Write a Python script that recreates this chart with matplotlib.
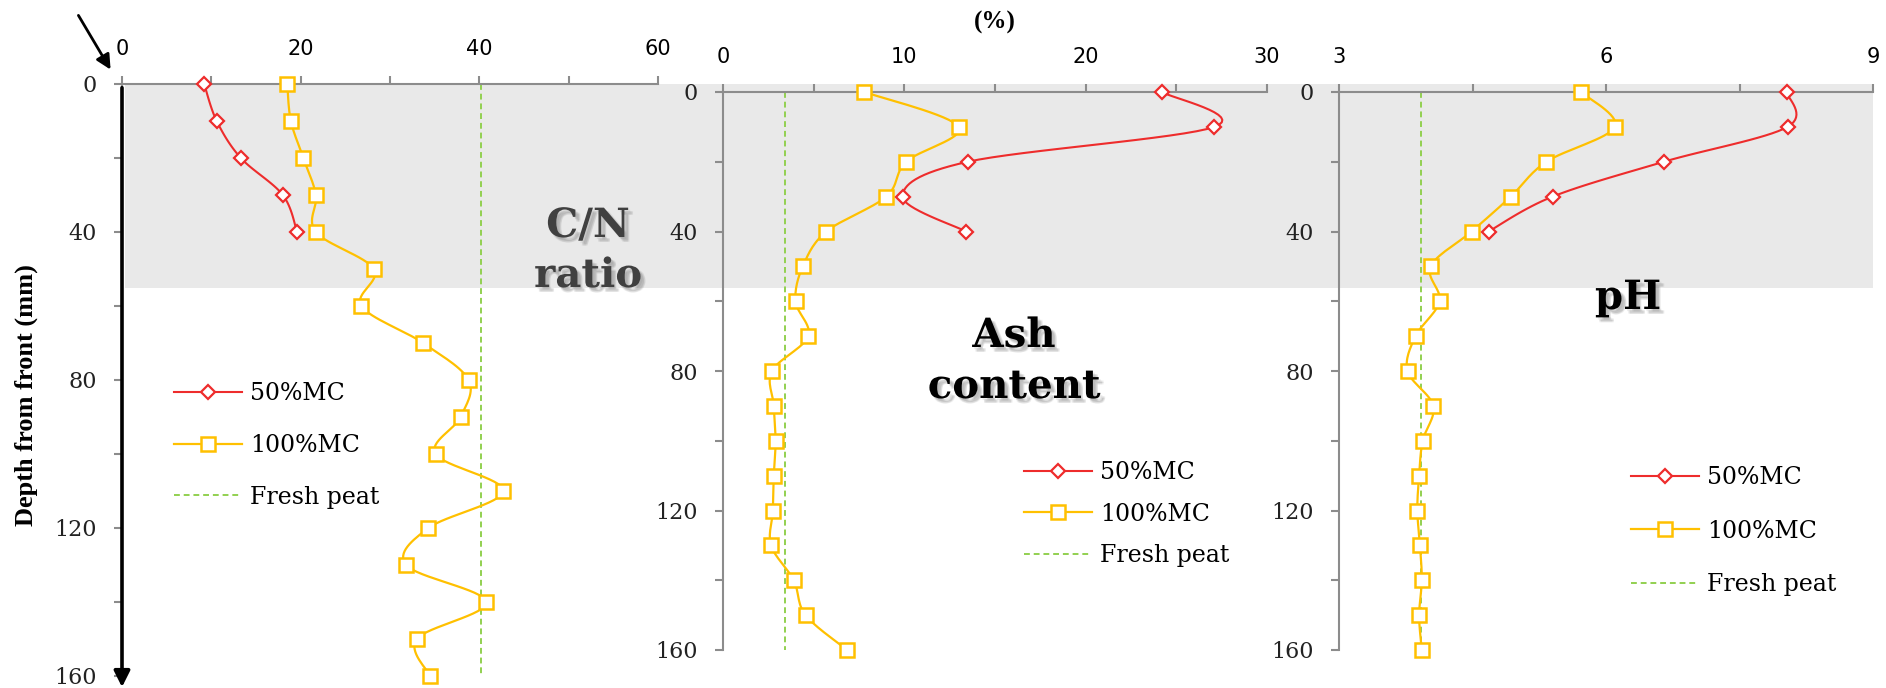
import numpy as np
import matplotlib
matplotlib.use('Agg')
import matplotlib.pyplot as plt
import matplotlib.patheffects as pe
from matplotlib.patches import Rectangle, FancyArrowPatch
from matplotlib.lines import Line2D
from matplotlib.ticker import MultipleLocator

# depth below the front (mm)
depth = [0, 10, 20, 30, 40, 50, 60, 70, 80, 90, 100, 110, 120, 130, 140, 150, 160]
depth_50 = [0, 10, 20, 30, 40]

# C/N ratio
cn_50 = [9.2, 10.6, 13.3, 18.0, 19.6]
cn_100 = [18.5, 18.9, 20.3, 21.7, 21.7, 28.2, 26.8, 33.7, 38.8, 37.9, 35.1,
          42.7, 34.3, 31.8, 40.8, 33.0, 34.5]
cn_fresh = 40.2

# ash content (%)
ash_50 = [24.2, 27.1, 13.5, 9.9, 13.4]
ash_100 = [7.8, 13.0, 10.1, 9.0, 5.7, 4.4, 4.0, 4.7, 2.7, 2.8, 2.9, 2.8, 2.75,
           2.65, 3.9, 4.55, 6.85]
ash_fresh = 3.4

# pH
ph_50 = [8.03, 8.04, 6.65, 5.40, 4.68]
ph_100 = [5.72, 6.10, 5.33, 4.93, 4.49, 4.03, 4.13, 3.86, 3.77, 4.06, 3.94,
          3.90, 3.88, 3.91, 3.93, 3.90, 3.93]
ph_fresh = 3.92

# depth of the shaded (affected) layer, mm
layer_depth = 55

labels = ['50%MC', '100%MC', 'Fresh peat']

RED = '#EE2C2C'
GOLD = '#FFC000'
GREEN = '#92D050'
AXIS = '#8C8C8C'
SERIF = 'DejaVu Serif'


def smooth(x, y, n=16):
    # Catmull-Rom / Bezier curve through the points (spreadsheet style smoothing)
    p = np.column_stack([x, y]).astype(float)
    ext = np.vstack([p[0], p, p[-1]])
    t = np.linspace(0, 1, n, endpoint=False)[:, None]
    out = []
    for i in range(1, len(ext) - 2):
        p0, p1, p2, p3 = ext[i - 1:i + 3]
        c1 = p1 + (p2 - p0) / 6
        c2 = p2 - (p3 - p1) / 6
        out.append((1 - t) ** 3 * p1 + 3 * (1 - t) ** 2 * t * c1
                   + 3 * (1 - t) * t ** 2 * c2 + t ** 3 * p2)
    out.append(p[-1:])
    out = np.vstack(out)
    return out[:, 0], out[:, 1]


fig = plt.figure(figsize=(18.86, 6.88), dpi=100)
W, H = 1886, 688


def px(x0, y0, x1, y1):
    # pixel box (top-left origin) -> figure fraction rect
    return [x0 / W, 1 - y1 / H, (x1 - x0) / W, (y1 - y0) / H]


def panel(rect, xlim, xmaj, xmin, v50, v100, fresh, leg_xy, leg_space):
    ax = fig.add_axes(rect)
    ax.set_facecolor('none')
    ax.set_xlim(*xlim)
    ax.set_ylim(160, 0)

    ax.plot(*smooth(v100, depth), color=GOLD, lw=1.6, zorder=3)
    ax.plot(v100, depth, ls='none', marker='s', ms=9.5, mfc='white',
            mec=GOLD, mew=1.8, zorder=4, clip_on=False)
    ax.plot(*smooth(v50, depth_50), color=RED, lw=1.5, zorder=5)
    ax.plot(v50, depth_50, ls='none', marker='D', ms=6.8, mfc='white',
            mec=RED, mew=1.6, zorder=6, clip_on=False)
    ax.plot([fresh, fresh], [0, 160], color=GREEN, lw=1.4, ls=(0, (3, 2)), zorder=2)

    for s in ['right', 'bottom']:
        ax.spines[s].set_visible(False)
    for s in ['top', 'left']:
        ax.spines[s].set_color(AXIS)
        ax.spines[s].set_linewidth(1.5)
    ax.xaxis.tick_top()
    ax.xaxis.set_major_locator(MultipleLocator(xmaj))
    ax.xaxis.set_minor_locator(MultipleLocator(xmin))
    ax.yaxis.set_major_locator(MultipleLocator(40))
    ax.yaxis.set_minor_locator(MultipleLocator(20))
    ax.tick_params(which='both', direction='out', color=AXIS, width=1.5, length=6)
    ax.tick_params(axis='x', labelsize=15, pad=12, labelcolor='black')
    ax.tick_params(axis='y', labelsize=16, pad=12, labelcolor='#222222')
    for lab in ax.get_yticklabels():
        lab.set_family(SERIF)

    handles = [
        Line2D([], [], color=RED, lw=1.5, marker='D', ms=6.8, mfc='white', mec=RED, mew=1.6),
        Line2D([], [], color=GOLD, lw=1.6, marker='s', ms=9.5, mfc='white', mec=GOLD, mew=1.8),
        Line2D([], [], color=GREEN, lw=1.4, ls=(0, (3, 2))),
    ]
    ax.legend(handles, labels, loc='upper left', bbox_to_anchor=leg_xy,
              bbox_transform=fig.transFigure, frameon=False, borderpad=0,
              borderaxespad=0, handlelength=2.88, handletextpad=0.35,
              labelspacing=leg_space, prop={'family': SERIF, 'size': 17})
    return ax


ax1 = panel(px(122, 84, 658, 676), (0, 60), 20, 10, cn_50, cn_100, cn_fresh,
            (174 / W, 1 - 382 / H), 1.22)
ax2 = panel(px(723, 92, 1267, 650), (0, 30), 10, 5, ash_50, ash_100, ash_fresh,
            (1024 / W, 1 - 461 / H), 0.79)
ax3 = panel(px(1339, 92, 1873, 650), (3, 9), 3, 1.5, ph_50, ph_100, ph_fresh,
            (1631 / W, 1 - 466 / H), 1.30)

# grey band marking the upper layer, spanning all three panels
to_fig = ax1.transData + fig.transFigure.inverted()
_, band_top = to_fig.transform((0, 0))
_, band_bot = to_fig.transform((0, layer_depth))
band_left = to_fig.transform((0.35, 0))[0]
band_right = ax3.get_position().x1
fig.patches.append(Rectangle((band_left, band_bot), band_right - band_left,
                             band_top - band_bot, transform=fig.transFigure,
                             facecolor='#E9E9E9', edgecolor='none', zorder=-10))

# black depth arrow on the first panel
ax1.annotate('', xy=(0, 163), xytext=(0, 1), xycoords='data',
             arrowprops=dict(arrowstyle='-|>', color='black', lw=2.6,
                             mutation_scale=24, shrinkA=0, shrinkB=0),
             annotation_clip=False, zorder=8)
# small arrow pointing at the exposed front
fig.add_artist(FancyArrowPatch(
    (77, H - 13), (112, H - 72), transform=None, arrowstyle='-|>',
    color='black', lw=2, mutation_scale=22))

fig.text(26 / W, 1 - 395 / H, 'Depth from front (mm)', rotation=90,
         ha='center', va='center', family='Liberation Serif', weight='bold', size=19)
fig.text(995 / W, 1 - 22 / H, '(%)', ha='center', va='center',
         family='Liberation Serif', weight='bold', size=18)

# soft drop shadow built from a few faint offset copies
shadow = [pe.SimplePatchShadow(offset=(dx, -dy), shadow_rgbFace='#777777', alpha=0.12)
          for dx, dy in [(1.5, 1.5), (2.5, 2.5), (3.5, 3.5), (2.5, 3.5), (3.5, 2.5)]]
shadow.append(pe.Normal())
for txt, x, y, col in [('C/N', 588, 237, '#404040'), ('ratio', 588, 287, '#404040'),
                       ('Ash', 1014, 347, 'black'), ('content', 1014, 398, 'black'),
                       ('pH', 1628, 309, 'black')]:
    fig.text(x / W, 1 - y / H, txt, ha='center', va='baseline', family=SERIF,
             weight='bold', size=29, color=col, path_effects=shadow)

fig.savefig('out.png', dpi=100)
